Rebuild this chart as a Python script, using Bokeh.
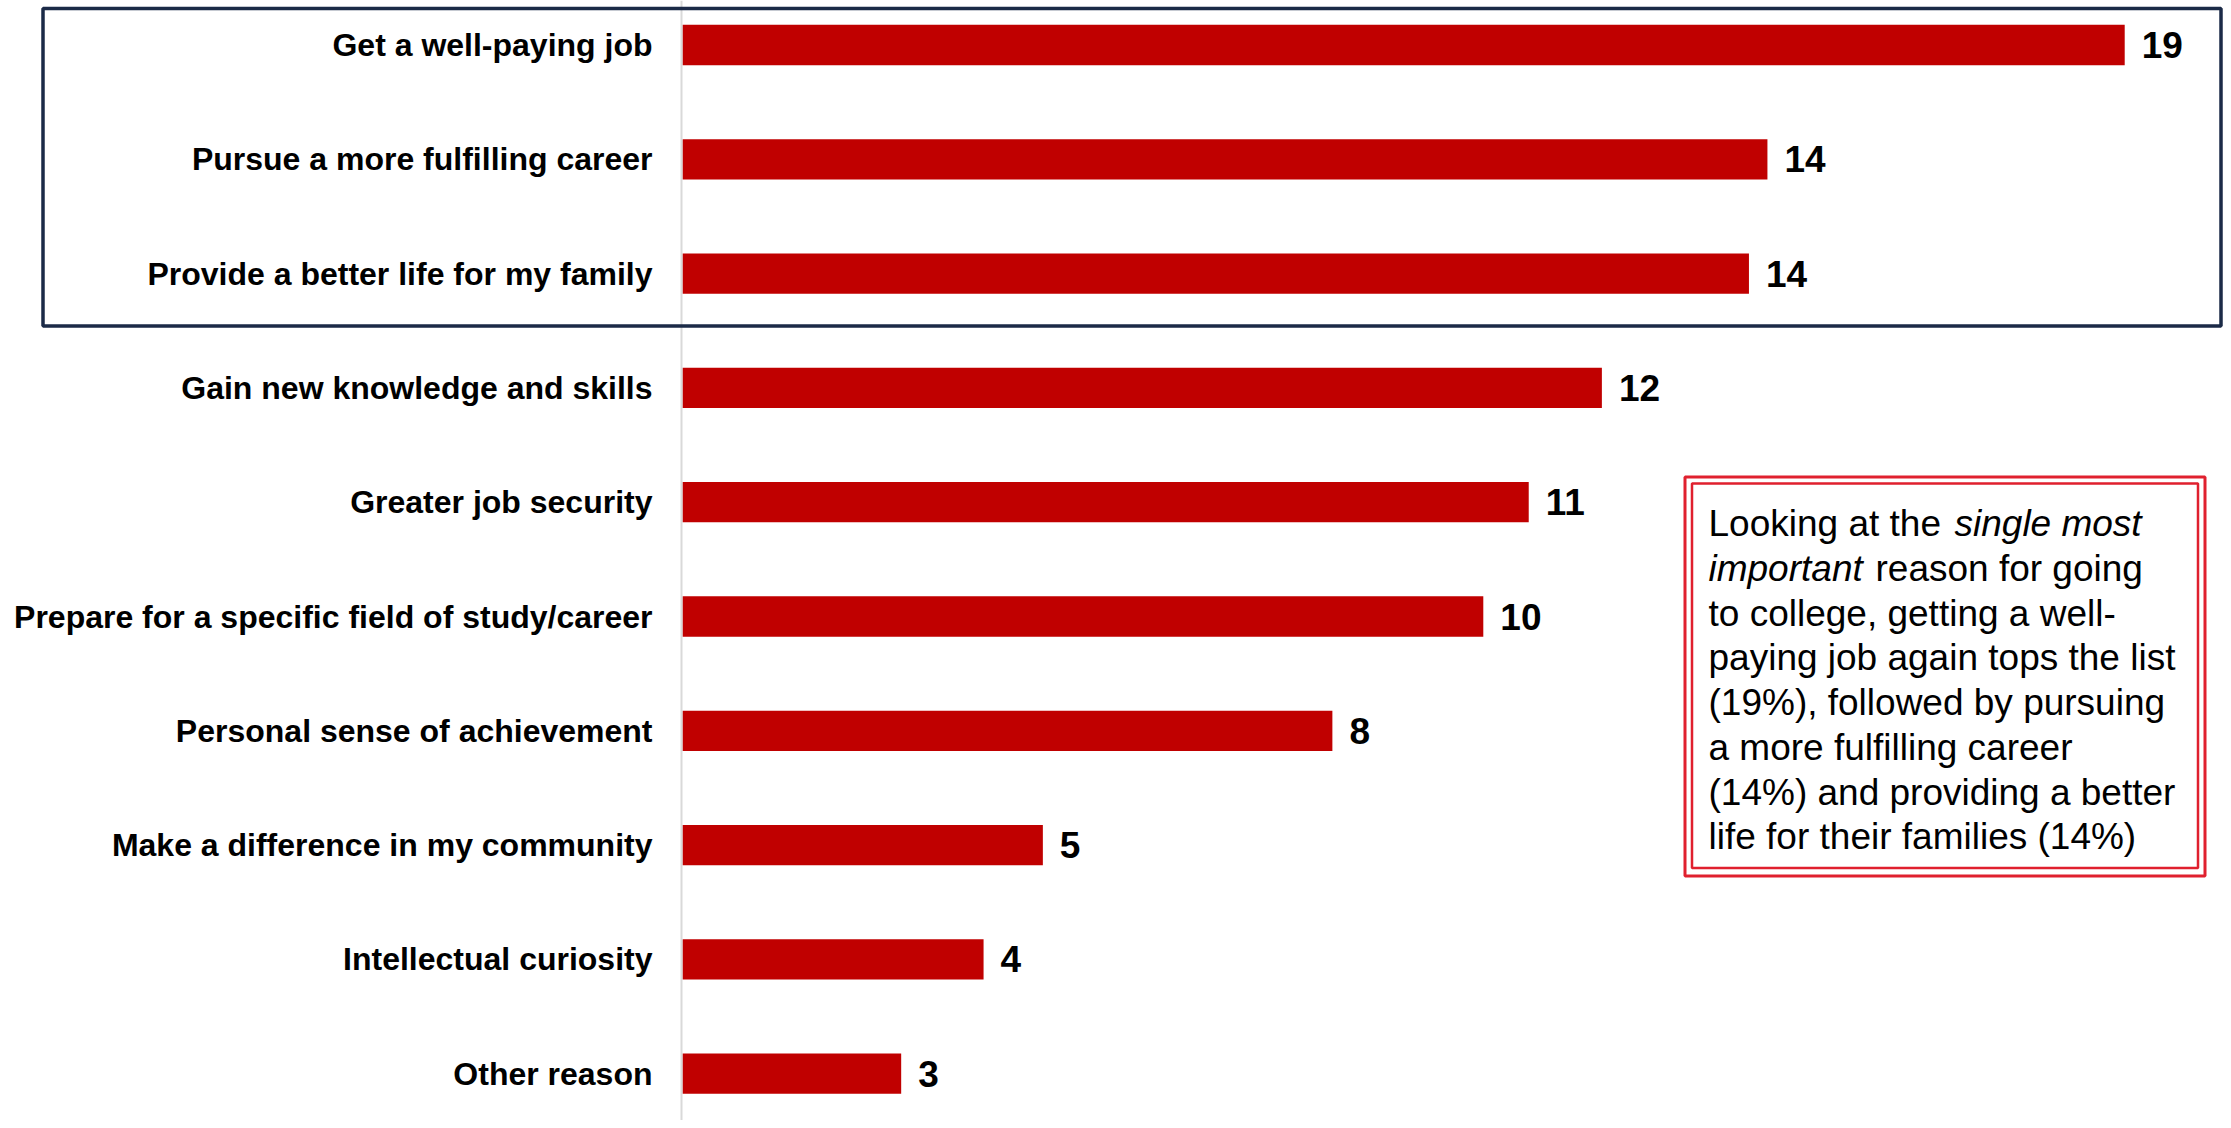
from bokeh.plotting import figure
from bokeh.models import ColumnDataSource, Range1d, BoxAnnotation, Span
from bokeh.core.properties import value
from bokeh.embed import file_html
from bokeh.resources import INLINE

# ---------------- data ----------------
categories = [
    "Get a well-paying job",
    "Pursue a more fulfilling career",
    "Provide a better life for my family",
    "Gain new knowledge and skills",
    "Greater job security",
    "Prepare for a specific field of study/career",
    "Personal sense of achievement",
    "Make a difference in my community",
    "Intellectual curiosity",
    "Other reason",
]
values = [18.73, 14.09, 13.85, 11.94, 10.99, 10.40, 8.44, 4.68, 3.91, 2.84]
value_labels = ["19", "14", "14", "12", "11", "10", "8", "5", "4", "3"]

note_lines = [
    [("Looking at the", "normal", 0), ("single most", "italic", 246)],
    [("important", "italic", 0), ("reason for going", "normal", 167)],
    [("to college, getting a well-", "normal", 0)],
    [("paying job again tops the list", "normal", 0)],
    [("(19%), followed by pursuing", "normal", 0)],
    [("a more fulfilling career", "normal", 0)],
    [("(14%) and providing a better", "normal", 0)],
    [("life for their families (14%)", "normal", 0)],
]

# ---------------- layout helpers (picture pixel -> data) ----------------
W, H = 2223, 1120
OFF = 0
PX_PER_X = 77.0        # pixels per percentage point
X_ZERO_PX = 682.0      # picture x of value 0
PX_PER_Y = 114.3       # pixels between bars
TOP_CENTER_PX = 44.5   # picture y of first bar centre
n = len(categories)

def px_x(px):
    return (px - X_ZERO_PX) / PX_PER_X

def px_y(py):
    return (n - 1) - (py - TOP_CENTER_PX) / PX_PER_Y

FONT = value("Liberation Sans")

p = figure(width=W, height=H,
           x_range=Range1d(px_x(OFF), px_x(OFF + W)),
           y_range=Range1d(px_y(OFF + H), px_y(OFF)),
           output_backend="svg", toolbar_location=None,
           x_axis_location=None, y_axis_location=None,
           min_border=0, outline_line_color=None)
p.grid.visible = False
p.background_fill_color = "white"
p.border_fill_color = "white"

ypos = [n - 1 - i for i in range(n)]
src = ColumnDataSource(dict(y=ypos, v=values, cat=categories, lab=value_labels))

# axis line
p.add_layout(Span(location=px_x(681), dimension="height",
                  line_color="#D9D9D9", line_width=2, line_alpha=1))

p.hbar(y="y", left=0, right="v", height=0.353, fill_color="#C00000",
       line_color=None, source=src)

p.text(x=0, y="y", text="cat", x_offset=-30, text_align="right",
       text_baseline="middle", text_font=FONT, text_font_style="bold",
       text_font_size="32px", text_color="black", source=src)

p.text(x="v", y="y", text="lab", x_offset=17, text_align="left",
       text_baseline="middle", text_font=FONT, text_font_style="bold",
       text_font_size="37px", text_color="black", source=src)

# highlight box round top three
p.add_layout(BoxAnnotation(left=px_x(42.5), right=px_x(2220.5),
                           top=px_y(8.0), bottom=px_y(325.5),
                           fill_color=None, fill_alpha=0,
                           line_color="#1B2A47", line_alpha=1, line_width=3.5))

# note box (double red border)
p.add_layout(BoxAnnotation(left=px_x(1684.5), right=px_x(2204.5),
                           top=px_y(476.5), bottom=px_y(875.5),
                           fill_color=None, fill_alpha=0,
                           line_color="#E0202E", line_alpha=1, line_width=3))
p.add_layout(BoxAnnotation(left=px_x(1691.5), right=px_x(2197.5),
                           top=px_y(483.0), bottom=px_y(867.5),
                           fill_color=None, fill_alpha=0,
                           line_color="#E0202E", line_alpha=1, line_width=2.5))

text_x = px_x(1708)
for k, segs in enumerate(note_lines):
    baseline = 523.0 + k * 44.76
    for txt, style, dx in segs:
        p.text(x=[text_x], y=[px_y(baseline)], text=[txt], x_offset=dx,
               text_align="left", text_baseline="alphabetic",
               text_font=FONT, text_font_style=style,
               text_font_size="37px", text_color="black")

open("out.html", "w").write(file_html(p, INLINE))
